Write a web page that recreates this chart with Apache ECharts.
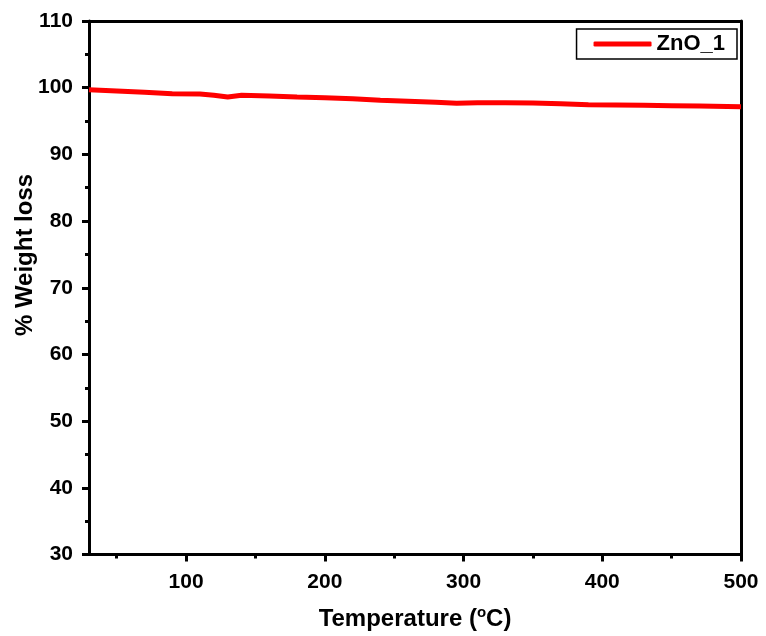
<!DOCTYPE html>
<html>
<head>
<meta charset="utf-8">
<script src="https://cdn.jsdelivr.net/npm/echarts@6/dist/echarts.min.js"></script>
<style>html,body{margin:0;padding:0;background:#fff}#c{width:766px;height:636px}</style>
</head>
<body>
<div id="c"></div>
<script>
var temperature = [30, 50, 70, 90, 110, 120, 130, 140, 160, 180, 200, 220, 240, 260, 280, 295, 310, 330, 350, 370, 390, 410, 430, 450, 470, 500];
var weight = [99.7, 99.5, 99.3, 99.1, 99.05, 98.85, 98.6, 98.85, 98.75, 98.6, 98.5, 98.35, 98.1, 97.95, 97.8, 97.65, 97.75, 97.75, 97.7, 97.6, 97.45, 97.4, 97.35, 97.3, 97.25, 97.15];
var xMajorTicks = [100, 200, 300, 400, 500];
var xMinorTicks = [50, 150, 250, 350, 450];
var seriesName = 'ZnO_1';
var yTitle = '% Weight loss';

var chart = echarts.init(document.getElementById('c'));
var font = 'Liberation Sans, Arial, sans-serif';
var data = temperature.map(function (t, i) { return [t, weight[i]]; });
chart.setOption({
  animation: false,
  backgroundColor: '#fff',
  grid: { left: 89, right: 25, top: 21, bottom: 79, containLabel: false },
  legend: {
    data: [seriesName],
    right: 29, top: 29,
    orient: 'vertical',
    borderColor: '#000', borderWidth: 1.5,
    padding: [4, 12, 4, 17],
    itemWidth: 58, itemHeight: 5, itemGap: 4,
    icon: 'roundRect',
    textStyle: { fontFamily: font, fontWeight: 'bold', fontSize: 22, color: '#000' }
  },
  graphic: [{
    type: 'text', x: 25, y: 255, rotation: Math.PI / 2,
    style: { text: yTitle, align: 'center', verticalAlign: 'middle', fontFamily: font, fontWeight: 'bold', fontSize: 24, fill: '#000' }
  }],
  xAxis: [
    {
      type: 'value', min: 30, max: 500, position: 'bottom',
      axisLine: { show: true, onZero: false, lineStyle: { color: '#000', width: 3 } },
      axisTick: { show: true, inside: false, length: 7, customValues: xMajorTicks, lineStyle: { color: '#000', width: 3 } },
      axisLabel: { customValues: xMajorTicks, margin: 17, fontFamily: font, fontWeight: 'bold', fontSize: 21, color: '#000' },
      splitLine: { show: false },
      name: '{t|Temperature (}{s|o}{t|C)}',
      nameLocation: 'middle', nameGap: 51,
      nameTextStyle: { rich: {
        t: { fontFamily: font, fontWeight: 'bold', fontSize: 24, color: '#000' },
        s: { fontFamily: font, fontWeight: 'bold', fontSize: 15, color: '#000', verticalAlign: 'top', padding: [0, 0, 12, 0] }
      } }
    },
    {
      type: 'value', min: 30, max: 500, position: 'bottom',
      axisLine: { show: false },
      axisTick: { show: true, inside: false, length: 4, customValues: xMinorTicks, lineStyle: { color: '#000', width: 3 } },
      axisLabel: { show: false },
      splitLine: { show: false }
    },
    {
      type: 'value', min: 30, max: 500, position: 'top',
      axisLine: { show: true, onZero: false, lineStyle: { color: '#000', width: 3 } },
      axisTick: { show: false }, axisLabel: { show: false }, splitLine: { show: false }
    }
  ],
  yAxis: [
    {
      type: 'value', min: 30, max: 110, interval: 10, position: 'left',
      axisLine: { show: true, onZero: false, lineStyle: { color: '#000', width: 3 } },
      axisTick: { show: true, inside: false, length: 7, lineStyle: { color: '#000', width: 3 } },
      minorTick: { show: true, splitNumber: 2, length: 4, lineStyle: { color: '#000', width: 3 } },
      axisLabel: { margin: 16, fontFamily: font, fontWeight: 'bold', fontSize: 21, color: '#000' },
      splitLine: { show: false }
    },
    {
      type: 'value', min: 30, max: 110, position: 'right',
      axisLine: { show: true, onZero: false, lineStyle: { color: '#000', width: 3 } },
      axisTick: { show: false }, axisLabel: { show: false }, splitLine: { show: false }
    }
  ],
  series: [{
    name: seriesName,
    type: 'line',
    data: data,
    xAxisIndex: 0, yAxisIndex: 0,
    showSymbol: false,
    smooth: false,
    lineStyle: { color: '#ff0000', width: 5 },
    itemStyle: { color: '#ff0000' }
  }]
});
</script>
</body>
</html>
